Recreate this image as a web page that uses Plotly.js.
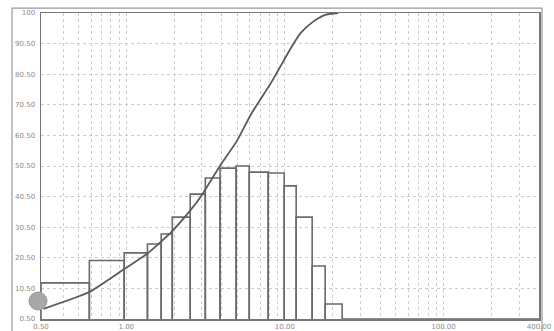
<!DOCTYPE html>
<html>
<head>
<meta charset="utf-8">
<script src="https://cdn.plot.ly/plotly-3.0.1.min.js"></script>
<style>html,body{margin:0;padding:0;background:#fff;}#chart{width:554px;height:331px;}</style>
</head>
<body>
<div id="chart"></div>
<script>
// Histogram bin edges (particle size) and bin heights
const binEdges = [0.29, 0.585, 0.97, 1.36, 1.66, 1.95, 2.53, 3.15, 3.9, 4.93, 5.96, 7.85, 9.9, 11.78, 14.86, 17.94, 22.96, 400];
const binHeights = [11.8, 19.1, 21.6, 24.5, 27.8, 33.3, 40.8, 46.1, 49.3, 50.0, 48.0, 47.7, 43.5, 33.3, 17.3, 4.9, 0];

// Cumulative curve
const cumX = [0.30, 0.585, 0.971, 1.376, 1.921, 2.49, 2.97, 3.43, 4.08, 4.93, 6.13, 8.25, 11.1, 12.6, 15.0, 17.9, 21.7];
const cumY = [3.3, 8.8, 16.3, 21.6, 28.4, 35.0, 40.2, 45.4, 51.6, 57.8, 67.0, 77.5, 89.2, 93.5, 97.1, 99.4, 100];

// Axis ticks
const xGridVals = [0.29, 0.4, 0.5, 0.6, 0.7, 0.8, 0.9, 1, 2, 3, 4, 5, 6, 7, 8, 9, 10, 20, 30, 40, 50, 60, 70, 80, 90, 100, 200, 300, 400];
const xLabelVals = [0.29, 1, 10, 100, 400];
const xLabelText = ["0.50", "1.00", "10.00", "100.00", "400.00"];
const yTickVals = [0, 10, 20, 30, 40, 50, 60, 70, 80, 90, 100];
const yTickText = ["0.50", "10.50", "20.50", "30.50", "40.50", "50.50", "60.50", "70.50", "80.50", "90.50", "100"];

const xText = xGridVals.map(v => {
  const i = xLabelVals.indexOf(v);
  return i >= 0 ? xLabelText[i] : "";
});

const barX = [], barY = [];
for (let i = 0; i < binHeights.length; i++) {
  barX.push(binEdges[i], binEdges[i], binEdges[i + 1], binEdges[i + 1], null);
  barY.push(0, binHeights[i], binHeights[i], 0, null);
}

const traces = [
  {
    x: barX, y: barY, type: 'scatter', mode: 'lines',
    line: {color: '#6a6a6a', width: 1.6}, hoverinfo: 'skip', showlegend: false
  },
  {
    x: cumX, y: cumY, type: 'scatter', mode: 'lines',
    line: {color: '#5a5a5a', width: 1.8, shape: 'spline', smoothing: 0.5},
    showlegend: false
  }
];

const layout = {
  width: 554, height: 331,
  margin: {l: 41, r: 15, t: 13, b: 12, pad: 0},
  paper_bgcolor: '#ffffff', plot_bgcolor: '#ffffff',
  font: {family: 'DejaVu Sans', size: 7, color: '#8a8a8a'},
  showlegend: false,
  xaxis: {
    type: 'log', range: [Math.log10(0.29), Math.log10(400)],
    tickmode: 'array', tickvals: xGridVals, ticktext: xText,
    showgrid: true, gridcolor: '#cdcdcd', griddash: 'dot', gridwidth: 1,
    showline: true, mirror: true, linecolor: '#777', linewidth: 1.5,
    ticks: '', zeroline: false, tickangle: 0
  },
  yaxis: {
    range: [0, 100],
    tickmode: 'array', tickvals: yTickVals, ticktext: yTickText,
    showgrid: true, gridcolor: '#cdcdcd', griddash: 'dot', gridwidth: 1,
    showline: true, mirror: true, linecolor: '#777', linewidth: 1.5,
    ticks: '', zeroline: false, ticklabelstandoff: 3
  },
  shapes: [
    {type: 'rect', xref: 'paper', yref: 'paper', x0: -0.0582, x1: 1.006, y0: -0.06, y1: 1.016,
     line: {color: '#999', width: 1.2}, fillcolor: 'rgba(0,0,0,0)', layer: 'below'},
    {type: 'circle', xref: 'paper', yref: 'paper', x0: -0.0241, x1: 0.012, y0: 0.0294, y1: 0.0882,
     line: {color: '#9a9a9a', width: 1}, fillcolor: '#a8a8a8', layer: 'above'}
  ]
};

Plotly.newPlot('chart', traces, layout, {staticPlot: true, displayModeBar: false});
</script>
</body>
</html>
